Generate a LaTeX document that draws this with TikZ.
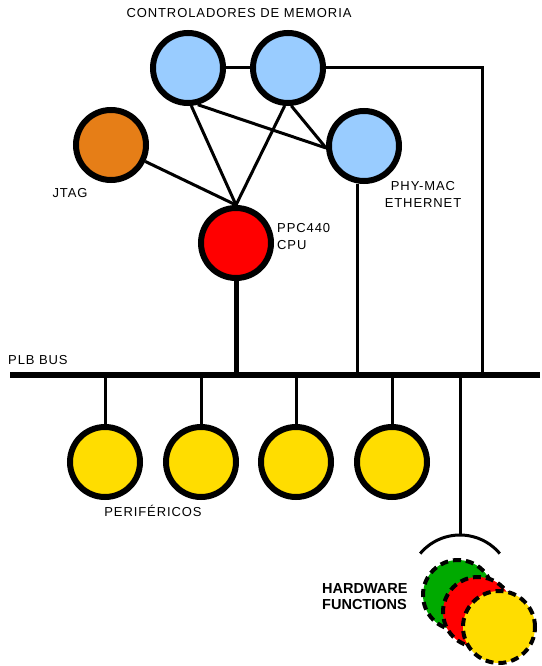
\documentclass[tikz,border=0pt]{standalone}
\usepackage{fontspec}
\setmainfont{Liberation Sans}[LetterSpace=7]
\newfontfamily\boldlabel{Liberation Sans}[LetterSpace=0]
\usetikzlibrary{positioning}
\definecolor{memblue}{HTML}{99CCFF}
\definecolor{jtagorange}{HTML}{E67E17}
\definecolor{cpured}{HTML}{FF0000}
\definecolor{perifyellow}{HTML}{FFDD00}
\definecolor{hwgreen}{HTML}{00AA00}

\begin{document}
\begin{tikzpicture}[
    x=1pt,y=-1pt,
    unit/.style={circle,draw=black,line width=6pt,minimum size=70pt,inner sep=0pt},
    hwunit/.style={circle,draw=black,line width=4pt,dash pattern=on 8pt off 5pt,
        minimum size=70pt,inner sep=0pt},
    link/.style={line width=3pt,draw=black},
    tag/.style={font=\fontsize{13}{17}\selectfont,inner sep=0pt,align=left}]
\useasboundingbox (0,0) rectangle (541,666);
% processor side
\node[unit,fill=memblue] (mem-a) at (188,68) {};
\node[unit,fill=memblue] (mem-b) at (288,68) {};
\node[unit,fill=jtagorange] (jtag) at (111,145) {};
\node[unit,fill=memblue] (phy) at (364,146) {};
\node[unit,fill=cpured] (cpu) at (236,243) {};
\node[tag] (mem-label) at (239,13) {CONTROLADORES DE MEMORIA};
\node[tag] (jtag-label) at (70,193) {JTAG};
\node[tag,anchor=west] (cpu-label) at (277,237) {PPC440\\CPU};
\node[tag,align=center] (phy-label) at (423,194) {PHY-MAC\\ETHERNET};
% bus
\coordinate (bus-left) at (10,375);
\coordinate (bus-right) at (540,375);
\node[tag,anchor=west] (bus-label) at (8,360) {PLB BUS};
\draw[line width=6pt] (bus-left)--(bus-right);
% peripherals
\foreach \px [count=\i] in {105,201,296,392}{
  \node[unit,fill=perifyellow] (perif-\i) at (\px,462) {};
  \draw[link] (perif-\i.north)--(perif-\i.north |- bus-left);
}
\node[tag] (perif-label) at (153,511) {PERIFÉRICOS};
% hardware functions
\node[hwunit,fill=hwgreen] (hw-a) at (458,595) {};
\node[hwunit,fill=cpured] (hw-b) at (478,612) {};
\node[hwunit,fill=perifyellow,minimum size=72pt] (hw-c) at (499,627) {};
\node[tag,font=\boldlabel\bfseries\fontsize{14.5}{16}\selectfont,anchor=west] (hw-label) at (322,597) {HARDWARE\\FUNCTIONS};
\coordinate (hw-top) at (460,535);
\draw[link] (hw-top |- bus-left)--(hw-top);
\draw[link] ([shift={(220:52)}]460,587) arc[start angle=220,end angle=320,radius=52];
% links
\draw[link] (mem-a)--(mem-b);
\draw[link] (mem-a.-85)--(cpu.north);
\draw[link] (mem-b.-95)--(cpu.north);
\draw[link] (jtag)--(cpu.north);
\draw[link] (mem-a.-75)--(phy.183);
\draw[link] (mem-b.-85)--(phy.183);
\draw[link] (mem-b.east)-|(bus-right -| 482,0);
\draw[line width=5pt] (cpu.south)--(cpu.south |- bus-left);
\draw[link] (phy.south -| 357,0)--(bus-left -| 357,0);
\end{tikzpicture}
\end{document}
